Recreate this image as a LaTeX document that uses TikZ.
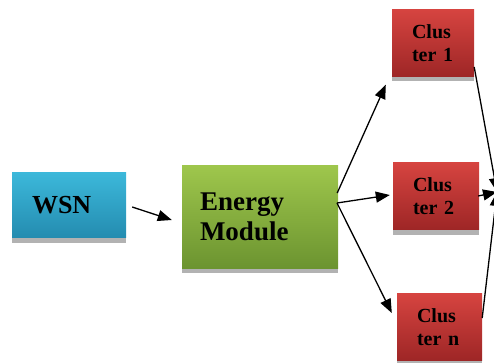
\documentclass[tikz,border=0pt]{standalone}
\usepackage{fontspec}
\setmainfont{Liberation Serif}
\usetikzlibrary{arrows.meta, shadows}
\definecolor{wsntop}{RGB}{60,184,218}
\definecolor{wsnbot}{RGB}{36,140,176}
\definecolor{emtop}{RGB}{158,198,76}
\definecolor{embot}{RGB}{108,148,48}
\definecolor{cltop}{RGB}{214,68,64}
\definecolor{clbot}{RGB}{158,38,38}
\tikzstyle{box} = [rectangle, draw=none, align=left, general shadow={fill=black!30, shadow yshift=-5pt}]
\tikzstyle{wsnbox} = [box, top color=wsntop, bottom color=wsnbot, text width=74pt, inner xsep=20pt, minimum height=65pt, font=\bfseries\fontsize{26}{30}\selectfont]
\tikzstyle{embox} = [box, top color=emtop, bottom color=embot, text width=120pt, inner xsep=18pt, minimum height=102pt, font=\bfseries\fontsize{27}{30}\selectfont]
\tikzstyle{clbox} = [box, top color=cltop, bottom color=clbot, inner xsep=20pt, minimum height=67pt, font=\bfseries\fontsize{20}{23}\selectfont]
\tikzstyle{conn} = [draw, line width=1.3pt, -{Triangle[length=14pt, width=11pt]}]

\begin{document}
\begin{tikzpicture}[x=1pt, y=-1pt]
	\useasboundingbox (0,0) rectangle (494,363);
	\node [wsnbox] (wsn) at (69,205) {WSN};
	\node [embox] (em) at (260,217) {Energy\\Module};
	\node [clbox, text width=42pt] (c1) at (433,43) {Clus\\ter 1};
	\node [clbox, text width=46pt] (c2) at (436,196) {Clus\\ter 2};
	\node [clbox, text width=45pt] (cn) at (439.5,327) {Clus\\ter n};
	\coordinate (fork) at (337,203);
	\coordinate (sink) at (497,192);

	\path [conn] ([shift={(6,2)}]wsn.east) -- ([shift={(-10,3)}]em.west);
	\path [conn] ([shift={(-1,-24)}]em.east) -- ([shift={(-6,8)}]c1.south west);
	\path [conn] (fork) -- ([shift={(-3,-1)}]c2.west);
	\path [conn] (fork) -- ([shift={(-5,-14)}]cn.west);
	\path [conn] ([shift={(0,24)}]c1.east) -- (sink);
	\path [conn] ([shift={(-1,0)}]c2.east) -- (sink);
	\path [conn] ([shift={(0,-9)}]cn.east) -- (sink);
\end{tikzpicture}
\end{document}
